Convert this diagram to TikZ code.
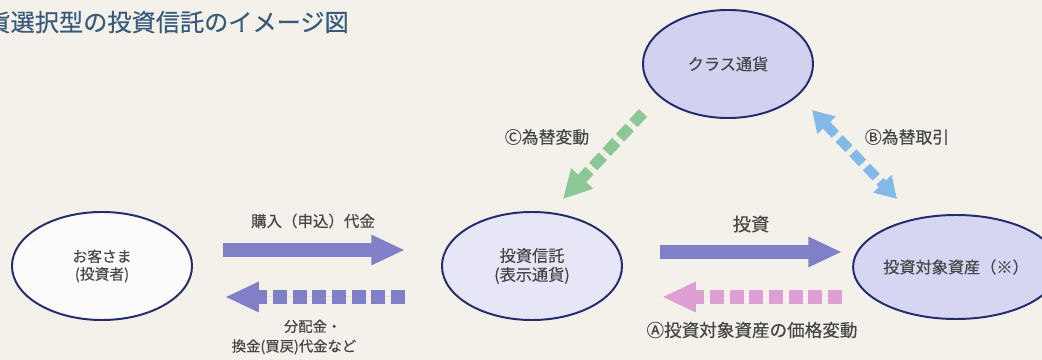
\documentclass[tikz,border=0pt]{standalone}
\usepackage{fontspec}
\setmainfont{Noto Sans CJK JP}
\newfontfamily\jpmid{Noto Sans CJK JP}[FakeBold=0.35]
\usetikzlibrary{arrows.meta,shapes.geometric}

\definecolor{bgbeige}{RGB}{243,241,233}
\definecolor{edgeblue}{RGB}{35,45,110}
\definecolor{titleblue}{RGB}{55,90,125}
\definecolor{textgray}{RGB}{70,70,70}
\definecolor{flowblue}{RGB}{128,128,200}
\definecolor{flowpink}{RGB}{222,160,212}
\definecolor{flowgreen}{RGB}{140,200,150}
\definecolor{flowsky}{RGB}{130,185,232}

\tikzset{
  ell/.style={ellipse, draw=edgeblue, line width=1.4pt, inner sep=0pt,
    minimum width=4.5cm, minimum height=2.7cm, text=textgray,
    align=center, font=\jpmid\fontsize{11.5}{13.5}\selectfont},
  lbl/.style={text=textgray, align=center, inner sep=0pt,
    font=\jpmid\fontsize{12}{14}\selectfont},
  flow/.style={line width=9.3pt, -{Triangle[width=20pt,length=24pt]}},
  dflow/.style={flow, dash pattern=on 10pt off 4pt},
}

\begin{document}
\begin{tikzpicture}[x=0.025cm, y=-0.025cm]

    % Frame
    \clip (0,0) rectangle (1042,360);
    \fill[bgbeige] (0,0) rectangle (1042,360);

    % Title
    \node[anchor=west, inner sep=0pt, text=titleblue,
      font=\jpmid\fontsize{17.2}{19}\selectfont] (title) at (-38,22)
      {通貨選択型の投資信託のイメージ図};

    % Ellipses
    \node[ell, fill=white!97!gray, font=\jpmid\fontsize{10.5}{12.5}\selectfont] (cust) at (102,266) {お客さま\\(投資者)};
    \node[ell, fill={rgb,255:red,230;green,230;blue,246}] (fund) at (532,266) {投資信託\\(表示通貨)};
    \node[ell, fill={rgb,255:red,210;green,210;blue,240}, minimum width=4.25cm] (cls) at (728,64) {クラス通貨};
    \node[ell, fill={rgb,255:red,214;green,214;blue,242}, minimum width=4.2cm, minimum height=2.6cm] (asset) at (956,267) {投資対象資産（※）};

    % Arrow ends
    \coordinate (buyS) at (223,250);
    \coordinate (buyE) at (405,250);
    \coordinate (payS) at (405,297);
    \coordinate (payE) at (225,297);
    \coordinate (invS) at (660,252);
    \coordinate (invE) at (842,252);
    \coordinate (prcS) at (842,297);
    \coordinate (prcE) at (662,297);
    \coordinate (fxcS) at (643,113);
    \coordinate (fxcE) at (563,199);
    \coordinate (fxbS) at (812,110);
    \coordinate (fxbE) at (897,199);

    % Flows
    \draw[flow, draw=flowblue, fill=flowblue] (buyS) -- (buyE);
    \draw[dflow, draw=flowblue, fill=flowblue] (payS) -- (payE);
    \draw[flow, draw=flowblue, fill=flowblue] (invS) -- (invE);
    \draw[dflow, draw=flowpink, fill=flowpink] (prcS) -- (prcE);
    \draw[dflow, draw=flowgreen, fill=flowgreen, line width=8pt,
      -{Triangle[width=20pt,length=20pt]}] (fxcS) -- (fxcE);
    \draw[dflow, draw=flowsky, fill=flowsky, line width=7pt,
      {Triangle[width=17pt,length=15pt]}-{Triangle[width=17pt,length=15pt]}] (fxbS) -- (fxbE);

    % Labels
    \node[lbl, font=\jpmid\fontsize{11}{13}\selectfont] (buyL) at (313,221) {購入（申込）代金};
    \node[lbl, font=\jpmid\fontsize{10.2}{14}\selectfont] (payL) at (294,337) {\hspace*{2.6em}分配金・\\換金(買戻)代金など};
    \node[lbl, font=\jpmid\fontsize{13}{15}\selectfont] (invL) at (751,224) {投資};
    \node[lbl, font=\jpmid\fontsize{12.5}{15}\selectfont] (prcL) at (752,330) {Ⓐ投資対象資産の価格変動};
    \node[lbl] (fxcL) at (547,137) {Ⓒ為替変動};
    \node[lbl] (fxbL) at (907,137) {Ⓑ為替取引};

\end{tikzpicture}
\end{document}
